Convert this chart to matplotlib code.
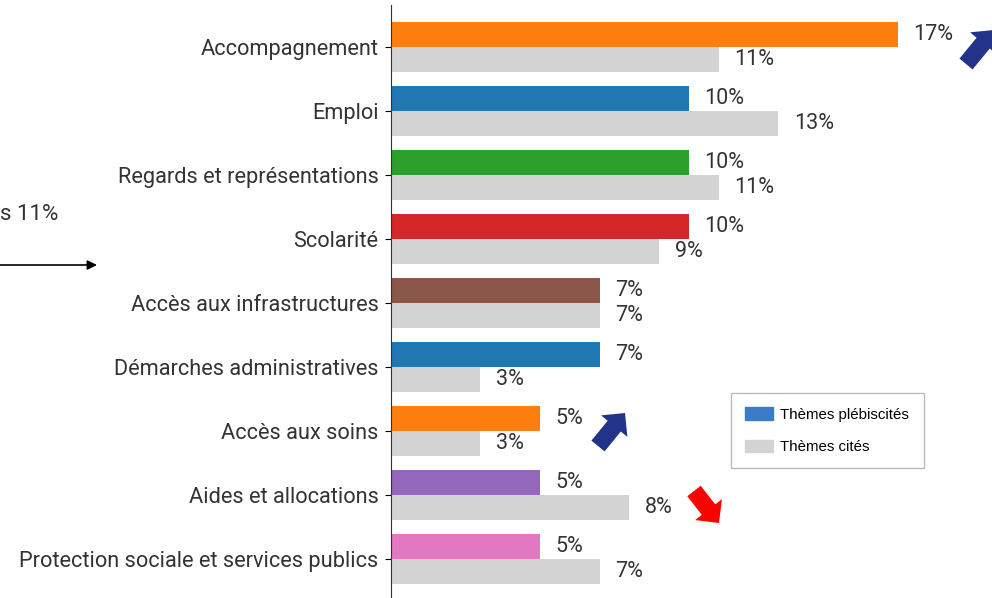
import matplotlib.pyplot as plt
from matplotlib.patches import FancyArrow, Patch
from matplotlib.transforms import IdentityTransform

plt.rcParams['font.family'] = ['Roboto', 'DejaVu Sans']

categories = ['Accompagnement', 'Emploi', 'Regards et représentations', 'Scolarité',
              'Accès aux infrastructures', 'Démarches administratives', 'Accès aux soins',
              'Aides et allocations', 'Protection sociale et services publics']
plebiscites = [17, 10, 10, 10, 7, 7, 5, 5, 5]
cites = [11, 13, 11, 9, 7, 3, 3, 8, 7]
bar_colors = ['#ff7f0e', '#1f77b4', '#2ca02c', '#d62728', '#8c564b',
              '#1f77b4', '#ff7f0e', '#9467bd', '#e377c2']
grey = '#d3d3d3'
legend_labels = ['Thèmes plébiscités', 'Thèmes cités']

W, H = 992, 598
fig = plt.figure(figsize=(W / 100, H / 100), dpi=100)
ax = fig.add_axes([391 / W, 0, 1 - 391 / W, 1 - 5 / H])

ypos = list(range(len(categories)))
h = 0.39
ax.barh([y - h / 2 for y in ypos], plebiscites, height=h, color=bar_colors)
ax.barh([y + h / 2 for y in ypos], cites, height=h, color=grey)

txt = '#333333'
for y, v in zip(ypos, plebiscites):
    ax.text(v + 0.52, y - h / 2, f'{v}%', va='center', ha='left', fontsize=15.5, color=txt)
for y, v in zip(ypos, cites):
    ax.text(v + 0.52, y + h / 2, f'{v}%', va='center', ha='left', fontsize=15.5, color=txt)

ax.set_xlim(0, (W - 391) / 29.8)
ax.set_ylim(8 + 39 / 64, -42 / 64)
ax.set_yticks(ypos)
ax.set_yticklabels(categories, fontsize=15.7, color=txt)
ax.tick_params(axis='y', length=4, width=0.8, pad=5)
ax.set_xticks([])
for s in ['top', 'right', 'bottom']:
    ax.spines[s].set_visible(False)
ax.spines['left'].set_color('#333333')

handles = [Patch(color='#3a7dc6'), Patch(color=grey)]
leg = fig.legend(handles, legend_labels, loc='upper left',
                 bbox_to_anchor=(731 / W, 1 - 393 / H), borderaxespad=0,
                 frameon=True, fancybox=False,
                 prop={'family': 'Liberation Sans', 'size': 10.8}, handlelength=1.85,
                 handleheight=0.9, labelspacing=1.2, borderpad=0.95, handletextpad=0.5)
leg.get_frame().set_edgecolor('#aaaaaa')
leg.get_frame().set_linewidth(1.0)


def fat_arrow(x0, y0, x1, y1, color):
    # image pixel coords (y down) -> display pixels
    a = FancyArrow(x0, H - y0, x1 - x0, -(y1 - y0), width=17, head_width=34,
                   head_length=17, length_includes_head=True, color=color,
                   transform=IdentityTransform(), linewidth=0)
    fig.add_artist(a)


fat_arrow(598, 446, 625, 413, '#24338a')
fat_arrow(966, 64, 994, 30, '#24338a')
fat_arrow(694, 491, 719, 523, '#ff0000')

fig.text(0, 1 - 214 / H, 's 11%', fontsize=16, color=txt, va='center', ha='left')
ax.annotate('', xy=(97 / W, 1 - 265 / H), xytext=(0, 1 - 265 / H),
            xycoords='figure fraction', textcoords='figure fraction',
            arrowprops=dict(arrowstyle='-|>', color='black', lw=1.2, mutation_scale=14,
                            shrinkA=0, shrinkB=0))

plt.savefig('out.png', dpi=100)
